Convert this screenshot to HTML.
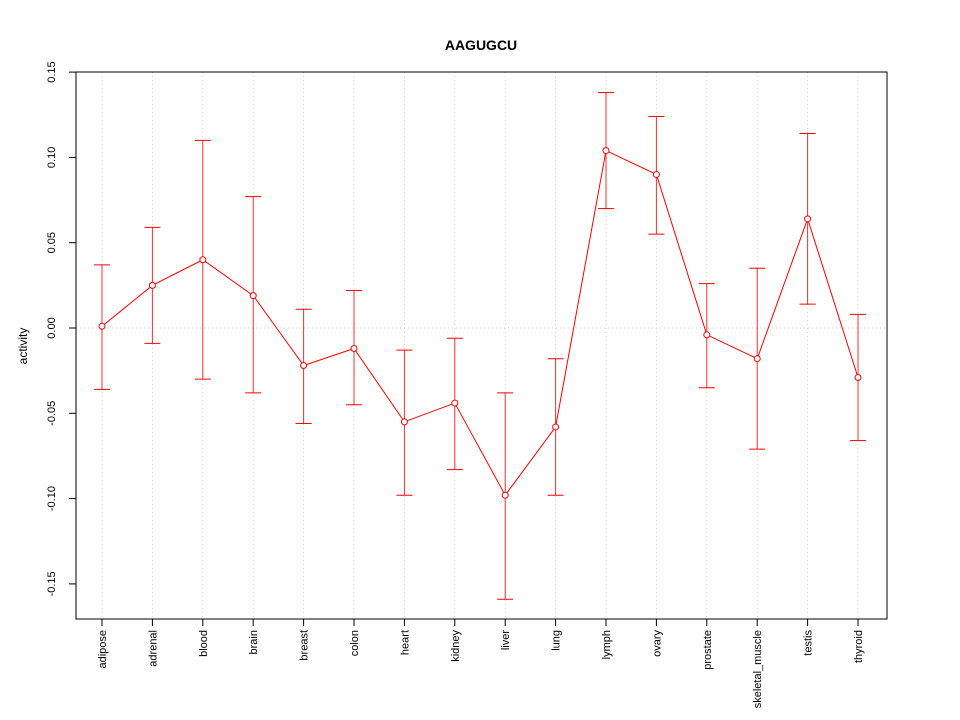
<!DOCTYPE html>
<html><head><meta charset="utf-8"><style>
body{margin:0;background:#fff}
svg{display:block;font-family:"Liberation Sans",Arial,sans-serif}
</style></head><body>
<svg id="chart" width="960" height="720">
<rect width="960" height="720" fill="#fff"/>
<text x="481" y="50" text-anchor="middle" font-weight="bold" font-size="14">AAGUGCU</text>
<text transform="translate(27,346) rotate(-90)" text-anchor="middle" font-size="12">activity</text>
<g id="grid"></g><g id="axes"></g><g id="marks"></g>
<rect x="76" y="72" width="811" height="547" fill="none" stroke="#000"/>
</svg>
<script>
const categories=["adipose","adrenal","blood","brain","breast","colon","heart","kidney","liver","lung","lymph","ovary","prostate","skeletal_muscle","testis","thyroid"];
const values=[0.001,0.025,0.040,0.019,-0.022,-0.012,-0.055,-0.044,-0.098,-0.058,0.104,0.090,-0.004,-0.018,0.064,-0.029];
const upper=[0.037,0.059,0.110,0.077,0.011,0.022,-0.013,-0.006,-0.038,-0.018,0.138,0.124,0.026,0.035,0.114,0.008];
const lower=[-0.036,-0.009,-0.030,-0.038,-0.056,-0.045,-0.098,-0.083,-0.159,-0.098,0.070,0.055,-0.035,-0.071,0.014,-0.066];
const yTicks=[-0.15,-0.10,-0.05,0.00,0.05,0.10,0.15];
const yTickLabels=["-0.15","-0.10","-0.05","0.00","0.05","0.10","0.15"];
const NS="http://www.w3.org/2000/svg";
function y(v){return 328-v*1706;}
function x(i){return 102+i*(858-102)/(categories.length-1);}
function mk(tag,attrs,parent){const e=document.createElementNS(NS,tag);for(const k in attrs)e.setAttribute(k,attrs[k]);document.getElementById(parent).appendChild(e);return e;}
const gl=mk("line",{x1:76,x2:887,y1:y(0),y2:y(0),stroke:"#ccc","stroke-dasharray":"1,3"},"grid");


categories.forEach((c,i)=>{
 const g=mk("line",{x1:x(i),x2:x(i),y1:72,y2:619,stroke:"#ccc","stroke-dasharray":"1,3"},"grid");
 
 
 const t=mk("line",{x1:x(i),x2:x(i),y1:619,y2:626,stroke:"#000"},"axes");
 
 
 const l=mk("text",{transform:`translate(${x(i)+4},630) rotate(-90)`,"text-anchor":"end","font-size":"11"},"axes");
 l.textContent=c;
 
 
});
yTicks.forEach((v,i)=>{
 const t=mk("line",{x1:69,x2:76,y1:y(v),y2:y(v),stroke:"#000"},"axes");
 
 
 const l=mk("text",{transform:`translate(55,${y(v)}) rotate(-90)`,"text-anchor":"middle","font-size":"11"},"axes");
 l.textContent=yTickLabels[i];
 
 
});
categories.forEach((c,i)=>{
 const e=mk("line",{x1:x(i),x2:x(i),y1:y(upper[i]),y2:y(lower[i]),stroke:"#e33"},"marks");
 
 
 [upper[i],lower[i]].forEach(v=>{
  const cap=mk("line",{x1:x(i)-8,x2:x(i)+8,y1:y(v),y2:y(v),stroke:"#f00"},"marks");
  
  
 });
});
const pl=mk("polyline",{points:values.map((v,i)=>x(i)+","+y(v)).join(" "),fill:"none",stroke:"#f00"},"marks");


values.forEach((v,i)=>{
 const p=mk("circle",{cx:x(i),cy:y(v),r:3,fill:"#fff",stroke:"#f00"},"marks");
 
 
});
</script>
</body></html>
